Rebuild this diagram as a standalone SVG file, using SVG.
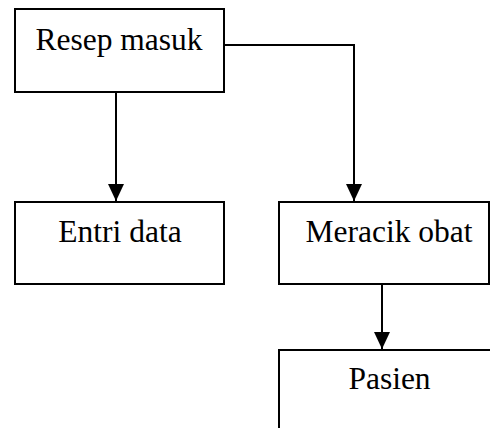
<svg xmlns="http://www.w3.org/2000/svg" width="490" height="428" viewBox="0 0 490 428">
  <style>
    .box { fill: #ffffff; stroke: #000000; stroke-width: 2; }
    .lbl { font-family: "Liberation Serif", "Times New Roman", serif; font-size: 31.5px; fill: #000000; text-anchor: middle; }
    .conn { fill: none; stroke: #000000; stroke-width: 2; }
  </style>
  <defs>
    <marker id="arrow" viewBox="0 0 17 16" refX="17" refY="8" markerWidth="17" markerHeight="16" markerUnits="userSpaceOnUse" orient="auto">
      <path d="M0,0 L17,8 L0,16 z" fill="#000000"/>
    </marker>
  </defs>
  <rect width="490" height="428" fill="#ffffff"/>
  <g id="connectors">
    <path class="conn" d="M116,92 L116,201" marker-end="url(#arrow)"/>
    <path class="conn" d="M225,45 L354,45 L354,201" marker-end="url(#arrow)"/>
    <path class="conn" d="M382,285 L382,349" marker-end="url(#arrow)"/>
  </g>
  <g id="resep-masuk">
    <rect class="box" x="15" y="9" width="209" height="83"/>
    <text class="lbl" x="119" y="49.5">Resep masuk</text>
  </g>
  <g id="entri-data">
    <rect class="box" x="15" y="202" width="209" height="82"/>
    <text class="lbl" x="120" y="241.5">Entri data</text>
  </g>
  <g id="meracik-obat">
    <rect class="box" x="279" y="202" width="210" height="82"/>
    <text class="lbl" x="389" y="241.5">Meracik obat</text>
  </g>
  <g id="pasien">
    <rect class="box" x="279" y="350" width="230" height="100"/>
    <text class="lbl" x="389.5" y="389">Pasien</text>
  </g>
</svg>
